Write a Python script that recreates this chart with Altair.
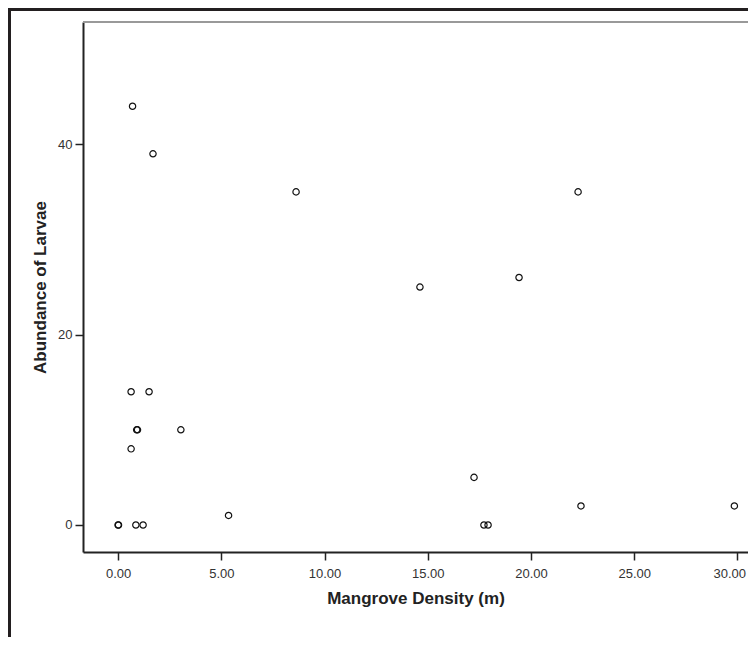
import altair as alt
import pandas as pd

# Data
density = [0.70, 1.69, 8.62, 22.28, 19.42, 14.62, 0.63, 1.50, 0.90, 0.94, 3.04,
           0.63, 17.24, 22.42, 29.85, 5.35, 0.00, 0.02, 0.86, 1.21, 17.72, 17.92]
larvae = [44, 39, 35, 35, 26, 25, 14, 14, 10, 10, 10,
          8, 5, 2, 2, 1, 0, 0, 0, 0, 0, 0]
x_ticks = [0, 5, 10, 15, 20, 25, 30]
y_ticks = [0, 20, 40]

df = pd.DataFrame({"density": density, "larvae": larvae})

W, H = 665, 530
PAD_L, PAD_T, PAD_B = 75, 14, 85
FONT = "Liberation Sans"

points = alt.Chart(df).mark_point(
    shape="circle", filled=False, color="#111111", size=40, strokeWidth=1.2, opacity=1
).encode(
    x=alt.X("density:Q",
            scale=alt.Scale(domain=[-1.70, 30.51], nice=False, zero=False),
            axis=alt.Axis(values=x_ticks, format=".2f", title="Mangrove Density (m)",
                          grid=False, tickSize=8, labelPadding=7, titlePadding=10,
                          labelAlign={"expr": "datum.value >= 30 ? 'right' : 'center'"},
                          labelOffset={"expr": "datum.value >= 30 ? 8 : 0"},
                          labelFontSize=13, titleFontSize=17, titleFontWeight="bold",
                          labelColor="#333333", titleColor="#222222",
                          domainColor="#222222", tickColor="#222222",
                          domainWidth=2, tickWidth=1.5, labelFont=FONT, titleFont=FONT)),
    y=alt.Y("larvae:Q",
            scale=alt.Scale(domain=[-2.84, 52.85], nice=False, zero=False),
            axis=alt.Axis(values=y_ticks, format="d", title="Abundance of Larvae",
                          grid=False, tickSize=8, labelPadding=3, titlePadding=8,
                          labelFontSize=13, titleFontSize=17, titleFontWeight="bold",
                          labelColor="#333333", titleColor="#222222",
                          domainColor="#222222", tickColor="#222222",
                          domainWidth=2, tickWidth=1.5, labelFont=FONT, titleFont=FONT)),
)

one = pd.DataFrame({"k": [0]})

top_gray = alt.Chart(one).mark_rule(color="#999999", strokeWidth=2).encode(
    x=alt.value(0), x2=alt.value(W), y=alt.value(0)
)
frame_top = alt.Chart(one).mark_rule(color="#231f20", strokeWidth=3).encode(
    x=alt.value(-PAD_L), x2=alt.value(W), y=alt.value(-PAD_T + 1.5)
)
frame_left = alt.Chart(one).mark_rule(color="#231f20", strokeWidth=3).encode(
    x=alt.value(-PAD_L + 1.5), y=alt.value(-PAD_T), y2=alt.value(H + PAD_B)
)

chart = alt.layer(points, top_gray, frame_top, frame_left).properties(
    width=W, height=H,
    autosize=alt.AutoSizeParams(type="none"),
    padding={"left": PAD_L, "top": PAD_T, "right": 0, "bottom": PAD_B},
    background="white",
).configure_view(stroke=None)

chart.save("out.html", embed_options={"renderer": "svg", "actions": False})
